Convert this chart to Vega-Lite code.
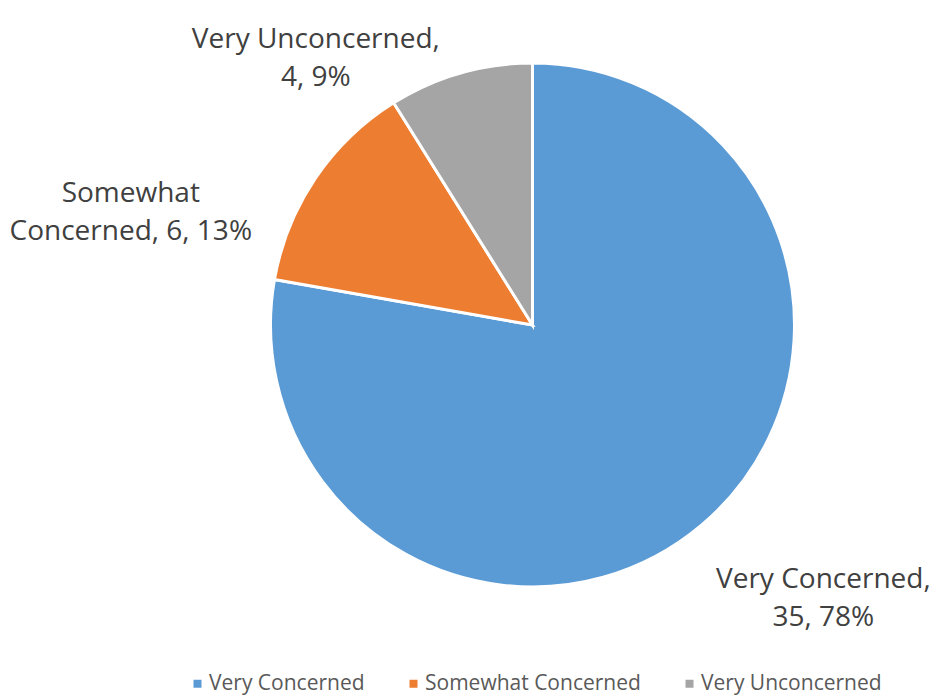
{
  "$schema": "https://vega.github.io/schema/vega-lite/v6.json",
  "width": 813,
  "height": 650,
  "autosize": {"type": "none"},
  "padding": {"left": 126, "right": 0, "top": 0, "bottom": 49},
  "background": "white",
  "data": {
    "values": [
      {"Category": "Very Concerned", "Count": 35, "Rank": 1, "Label": "Very Concerned,\n35, 78%"},
      {"Category": "Somewhat Concerned", "Count": 6, "Rank": 2, "Label": "Somewhat\nConcerned, 6, 13%"},
      {"Category": "Very Unconcerned", "Count": 4, "Rank": 3, "Label": "Very Unconcerned,\n4, 9%"}
    ]
  },
  "encoding": {
    "theta": {"field": "Count", "type": "quantitative", "stack": true},
    "order": {"field": "Rank", "type": "quantitative"}
  },
  "layer": [
    {
      "mark": {"type": "arc", "outerRadius": 262, "stroke": "white", "strokeWidth": 3},
      "encoding": {
        "color": {
          "field": "Category",
          "type": "nominal",
          "sort": ["Very Concerned", "Somewhat Concerned", "Very Unconcerned"],
          "scale": {
            "domain": ["Very Concerned", "Somewhat Concerned", "Very Unconcerned"],
            "range": ["#5B9BD5", "#ED7D31", "#A5A5A5"]
          },
          "legend": {
            "title": null,
            "orient": "none",
            "legendX": 61,
            "legendY": 673,
            "direction": "horizontal",
            "columns": 3,
            "columnPadding": 38,
            "symbolType": "square",
            "symbolSize": 64,
            "symbolStrokeWidth": 0,
            "symbolOffset": 0,
            "labelFont": "Open Sans",
            "labelFontSize": 21,
            "labelLimit": 400,
            "labelColor": "#595959",
            "labelOffset": 1
          }
        }
      }
    },
    {
      "mark": {
        "type": "text",
        "radius": 300,
        "lineBreak": "\n",
        "font": "Open Sans",
        "fontSize": 28,
        "lineHeight": 38,
        "fill": "#404040",
        "align": "center",
        "baseline": "middle",
        "dx": {"expr": "datum.Category === 'Very Concerned' ? 98 : datum.Category === 'Somewhat Concerned' ? -153 : -134"},
        "dy": {"expr": "datum.Category === 'Very Concerned' ? 25 : datum.Category === 'Somewhat Concerned' ? 37 : 3"}
      },
      "encoding": {
        "text": {"field": "Label", "type": "nominal"}
      }
    }
  ],
  "config": {"view": {"stroke": null}}
}
